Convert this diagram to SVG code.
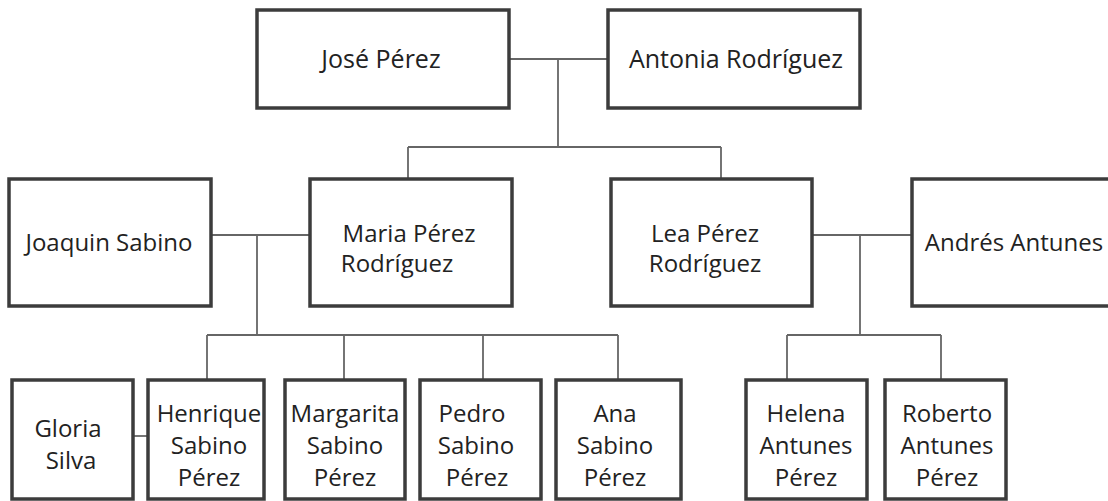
<svg xmlns="http://www.w3.org/2000/svg" width="1108" height="501" viewBox="0 0 1108 501">
<style>
.box{fill:#fff;stroke:#3c3c3c;stroke-width:3.5}
.t{font-family:"Open Sans","Noto Sans",sans-serif;font-size:24px;fill:#222;text-anchor:middle}
.big{font-size:25px}
.c{fill:none;stroke:#666;stroke-width:1.8}
</style>
<rect width="1108" height="501" fill="#fff"/>
<g id="connectors">
<path class="c" d="M509 59H608M558 59V147M408 147H721M408 147V179M721 147V179"/>
<path class="c" d="M211 235H310M257 235V335M207 335H618M207 335V380M344 335V380M483 335V380M618 335V380"/>
<path class="c" d="M812 235H912M860 235V335M787 335H941M787 335V380M941 335V380"/>
<path class="c" d="M133 436H148"/>
</g>
<g id="jose"><rect class="box" x="257" y="10" width="252" height="98"/><text class="t big" x="381" y="68">José Pérez</text></g>
<g id="antonia"><rect class="box" x="608" y="10" width="252" height="98"/><text class="t big" x="736" y="68">Antonia Rodríguez</text></g>
<g id="joaquin"><rect class="box" x="9" y="179" width="202" height="127"/><text class="t" x="109" y="251">Joaquin Sabino</text></g>
<g id="maria"><rect class="box" x="310" y="179" width="202" height="127"/><text class="t" x="409" y="242">Maria Pérez</text><text class="t" x="397" y="272">Rodríguez</text></g>
<g id="lea"><rect class="box" x="611" y="179" width="201" height="127"/><text class="t" x="705" y="242">Lea Pérez</text><text class="t" x="705" y="272">Rodríguez</text></g>
<g id="andres"><rect class="box" x="912" y="179" width="210" height="127"/><text class="t" x="1014" y="251">Andrés Antunes</text></g>
<g id="gloria"><rect class="box" x="12" y="380" width="121" height="119"/><text class="t" x="68" y="437">Gloria</text><text class="t" x="71" y="469">Silva</text></g>
<g id="henrique"><rect class="box" x="148" y="380" width="116" height="119"/><text class="t" x="209" y="422">Henrique</text><text class="t" x="209" y="454">Sabino</text><text class="t" x="209" y="486">Pérez</text></g>
<g id="margarita"><rect class="box" x="285" y="380" width="120" height="119"/><text class="t" x="345" y="422">Margarita</text><text class="t" x="345" y="454">Sabino</text><text class="t" x="345" y="486">Pérez</text></g>
<g id="pedro"><rect class="box" x="420" y="380" width="121" height="119"/><text class="t" x="472" y="422">Pedro</text><text class="t" x="476" y="454">Sabino</text><text class="t" x="477" y="486">Pérez</text></g>
<g id="ana"><rect class="box" x="556" y="380" width="125" height="119"/><text class="t" x="615" y="422">Ana</text><text class="t" x="615" y="454">Sabino</text><text class="t" x="615" y="486">Pérez</text></g>
<g id="helena"><rect class="box" x="746" y="380" width="121" height="119"/><text class="t" x="806" y="422">Helena</text><text class="t" x="806" y="454">Antunes</text><text class="t" x="806" y="486">Pérez</text></g>
<g id="roberto"><rect class="box" x="885" y="380" width="121" height="119"/><text class="t" x="947" y="422">Roberto</text><text class="t" x="947" y="454">Antunes</text><text class="t" x="947" y="486">Pérez</text></g>
</svg>
